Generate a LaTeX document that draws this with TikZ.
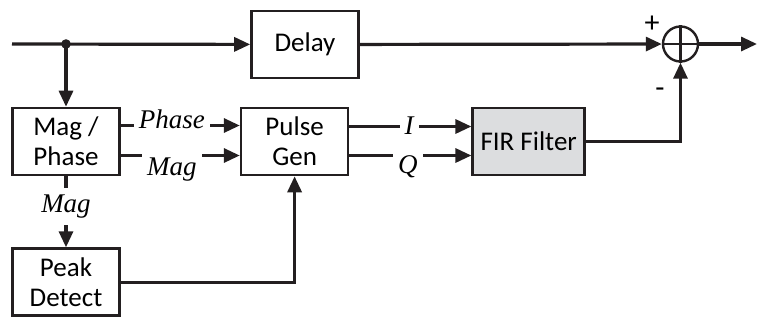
\documentclass[tikz,border=0pt]{standalone}
\usepackage{fontspec}
\setmainfont{Carlito}
\newfontfamily\lblfont{Liberation Serif}
\usetikzlibrary{positioning,arrows.meta}
\definecolor{firgray}{RGB}{220,221,223}
\definecolor{ink}{RGB}{35,31,32}

\begin{document}
\begin{tikzpicture}[x=0.5pt,y=-0.5pt,
      blk/.style={draw=ink, line width=1.3pt, rectangle, minimum width=53.5pt, minimum height=33.5pt, align=center, inner sep=1pt, font=\fontsize{13.5}{15}\selectfont},
      sig/.style={fill=white, inner xsep=2.5pt, inner ysep=3.5pt, anchor=base, font=\lblfont\itshape\fontsize{13.5}{15}\selectfont},
      sign/.style={inner sep=0pt, font=\fontsize{15}{17}\selectfont},
      >={Triangle[length=8pt,width=7pt]},
      line width=1.6pt, draw=ink
    ]
    \useasboundingbox (0,0) rectangle (757,322);
    \node[blk] (delay) at (305,44.5) {Delay};
    \node[blk] (magph) at (66,141.5) {Mag /\\Phase};
    \node[blk,right=59.5pt of magph] (pulse) {Pulse\\Gen};
    \node[blk,right=61pt of pulse,minimum width=56pt,fill=firgray] (fir) {FIR Filter};
    \node[blk,below=35.5pt of magph] (peak) {Peak\\Detect};
    \node[draw=ink,circle,minimum size=17.5pt,inner sep=0pt,line width=1.2pt] (sum) at (680.5,44) {};
    \draw[line width=1.2pt] (sum.north) -- (sum.south) (sum.west) -- (sum.east);
    \node[sign] (plus) at (652,24) {+};
    \node[sign] (minus) at (660,93) {-};
    \coordinate (in) at (12,44);
    \coordinate (out) at (757,44);
    \coordinate (tap) at (magph.north |- in);

    \draw[->] (in) -- (delay);
    \fill[ink] (tap) circle[radius=2.4pt];
    \draw[->] (tap) -- (magph);
    \draw[->] (delay) -- (sum);
    \draw[->] (sum) -- (out);
    \draw[->] ([yshift=8pt]magph.east) -- node[sig,pos=0.43,yshift=-1.5pt] {Phase} ([yshift=8pt]pulse.west);
    \draw[->] ([yshift=-7pt]magph.east) -- node[sig,pos=0.43,yshift=-10pt] {Mag} ([yshift=-7pt]pulse.west);
    \draw[->] ([yshift=7.5pt]pulse.east) -- node[sig,pos=0.49,yshift=-4pt] {I} ([yshift=7.5pt]fir.west);
    \draw[->] ([yshift=-7pt]pulse.east) -- node[sig,pos=0.48,yshift=-9pt] {Q} ([yshift=-7pt]fir.west);
    \draw[->] (magph) -- node[sig,pos=0.51] {Mag} (peak);
    \draw[->] (peak.east) -| (pulse.south);
    \draw[->] (fir.east) -| (sum.south);
  \end{tikzpicture}
\end{document}
